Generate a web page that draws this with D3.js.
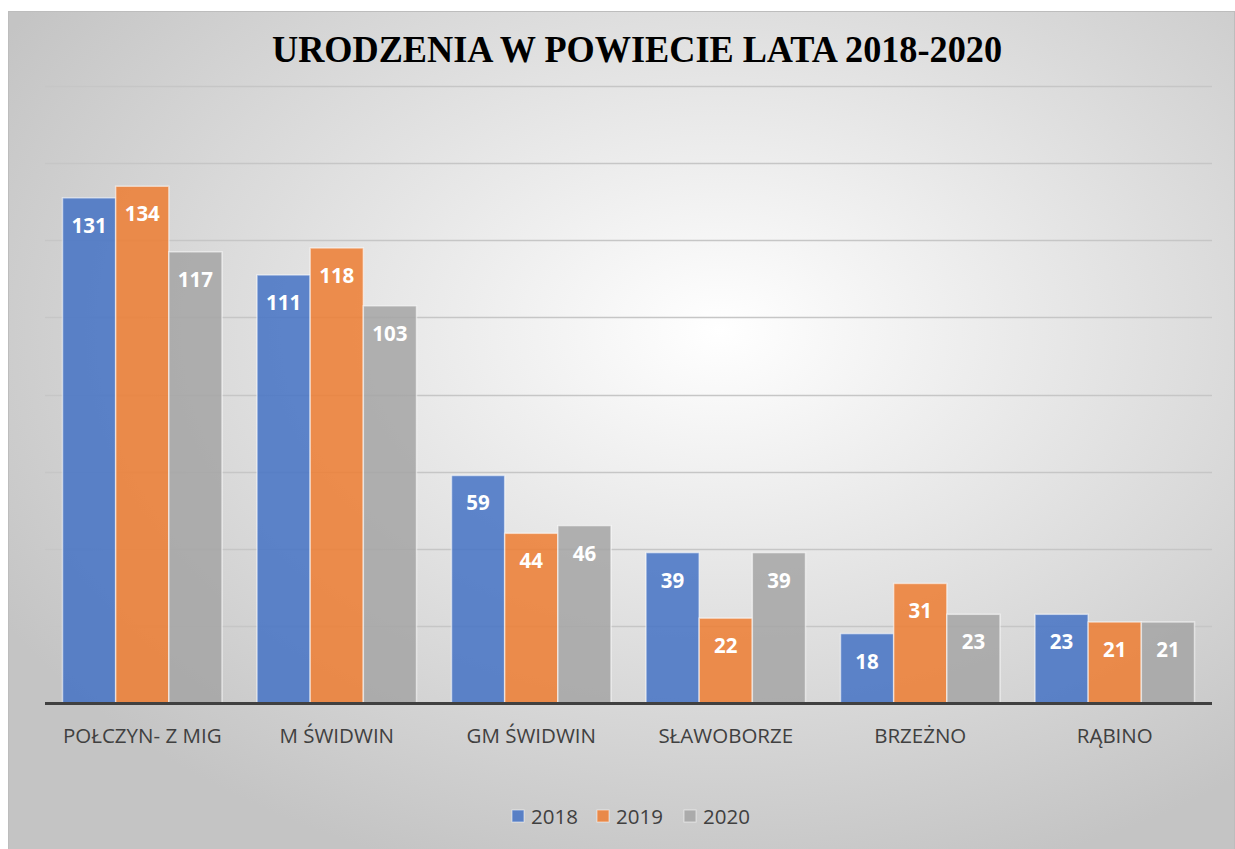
<!DOCTYPE html>
<html>
<head>
<meta charset="utf-8">
<title>Urodzenia w powiecie</title>
<script src="https://cdn.jsdelivr.net/npm/d3@7"></script>
<style>
  html, body { margin: 0; padding: 0; background: #fff; }
  svg { display: block; }
</style>
</head>
<body>
<script>
// dane
var gminy = ["POŁCZYN- Z MIG", "M ŚWIDWIN", "GM ŚWIDWIN", "SŁAWOBORZE", "BRZEŻNO", "RĄBINO"];
var lata = ["2018", "2019", "2020"];
var v2018 = [131, 111, 59, 39, 18, 23];
var v2019 = [134, 118, 44, 22, 31, 21];
var v2020 = [117, 103, 46, 39, 23, 21];
var yTicks = [0, 20, 40, 60, 80, 100, 120, 140, 160];
var kolory = ["#4472c4", "#ed7d31", "#a5a5a5"];

var width = 1235, height = 849;
var svg = d3.select("body").append("svg").attr("width", width).attr("height", height);

// tlo z gradientem
var defs = svg.append("defs");
var grad = defs.append("radialGradient").attr("id", "bg")
  .attr("cx", "58%").attr("cy", "38%").attr("r", "68%");
grad.append("stop").attr("offset", "0%").attr("stop-color", "#ffffff");
grad.append("stop").attr("offset", "100%").attr("stop-color", "#c4c4c4");

svg.append("rect").attr("x", 8.5).attr("y", 11.5).attr("width", 1226).attr("height", 840)
  .attr("fill", "url(#bg)").attr("stroke", "#bdbdbd").attr("stroke-width", 1);

svg.append("text").attr("x", 637).attr("y", 62).attr("text-anchor", "middle")
  .attr("font-family", "'Liberation Serif', serif").attr("font-weight", "bold")
  .attr("font-size", 37).attr("fill", "#000")
  .attr("textLength", 730).attr("lengthAdjust", "spacingAndGlyphs")
  .text("URODZENIA W POWIECIE LATA 2018-2020");

var x0 = d3.scaleBand().domain(gminy).range([45, 1212]).paddingInner(0.18).paddingOuter(0.09);
var x1 = d3.scaleBand().domain(lata).range([0, x0.bandwidth()]).padding(0);
var y = d3.scaleLinear().domain([0, 160]).range([703, 86]);

// siatka
svg.append("g").selectAll("line").data(yTicks.slice(1)).enter().append("line")
  .attr("x1", 45).attr("x2", 1212)
  .attr("y1", function(d){ return Math.round(y(d)) + 0.5; })
  .attr("y2", function(d){ return Math.round(y(d)) + 0.5; })
  .attr("stroke", "#c6c6c6").attr("stroke-width", 1.3);

var seria = [v2018, v2019, v2020];
var rows = gminy.map(function(g, i){
  return lata.map(function(r, j){ return {gmina: g, rok: r, val: seria[j][i], k: j}; });
});

var grupy = svg.append("g").selectAll("g").data(rows).enter().append("g")
  .attr("transform", function(d, i){ return "translate(" + x0(gminy[i]) + ",0)"; });

grupy.selectAll("rect").data(function(d){ return d; }).enter().append("rect")
  .attr("x", function(d){ return x1(d.rok); })
  .attr("y", function(d){ return y(d.val); })
  .attr("width", x1.bandwidth())
  .attr("height", function(d){ return y(0) - y(d.val); })
  .attr("fill", function(d){ return kolory[d.k]; })
  .attr("fill-opacity", 0.85)
  .attr("stroke", "rgba(255,255,255,0.55)").attr("stroke-width", 1.5);

grupy.selectAll("text").data(function(d){ return d; }).enter().append("text")
  .attr("x", function(d){ return x1(d.rok) + x1.bandwidth() / 2; })
  .attr("y", function(d){ return y(d.val) + 35; })
  .attr("text-anchor", "middle")
  .attr("font-family", "'Open Sans', sans-serif").attr("font-weight", "bold")
  .attr("font-size", 20.5).attr("fill", "#fff")
  .text(function(d){ return d.val; });

// os x
svg.append("line").attr("x1", 45).attr("x2", 1212).attr("y1", 703.5).attr("y2", 703.5)
  .attr("stroke", "#404040").attr("stroke-width", 3);

var xAxis = d3.axisBottom(x0).tickSize(0).tickPadding(0);
var gx = svg.append("g").attr("transform", "translate(0,743)").call(xAxis);
gx.select(".domain").remove();
gx.selectAll("text").attr("dy", 0).attr("font-family", "'Open Sans', sans-serif")
  .attr("font-size", 20.5).attr("fill", "#404040");

// legenda
var legX = [512, 597, 684];
var leg = svg.append("g").selectAll("g").data(lata).enter().append("g")
  .attr("transform", function(d, i){ return "translate(" + legX[i] + ",810)"; });
leg.append("rect").attr("width", 12).attr("height", 12)
  .attr("fill", function(d, i){ return kolory[i]; }).attr("fill-opacity", 0.85)
  .attr("stroke", "rgba(255,255,255,0.55)");
leg.append("text").attr("x", 19).attr("y", 14)
  .attr("font-family", "'Open Sans', sans-serif").attr("font-size", 20.5).attr("fill", "#404040")
  .text(function(d){ return d; });
</script>
</body>
</html>
